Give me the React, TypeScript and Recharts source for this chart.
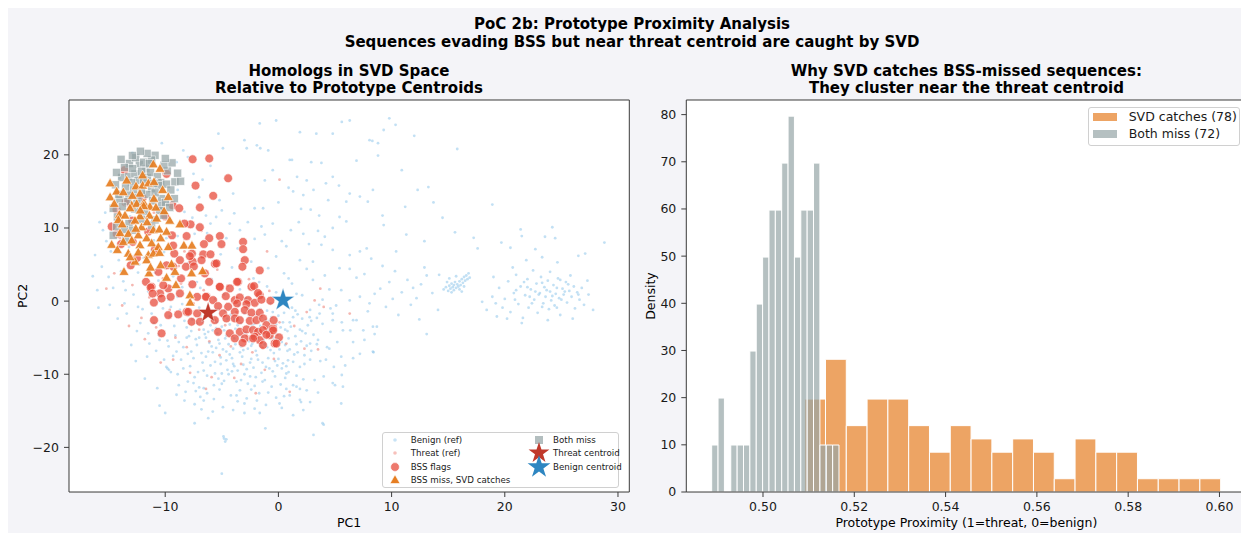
import React from 'react';
import { ScatterChart, ComposedChart, Scatter, XAxis, YAxis, CartesianGrid, ReferenceArea } from 'recharts';

const FONT = '"DejaVu Sans", "Liberation Sans", sans-serif';
type P = [number, number];

// ---------- Left panel: points in SVD space (PC1, PC2) ----------
const benignRef: P[] = [
  [-9.6,-2.1],[-9.1,-4.7],[-8.7,-1.2],[-8.4,-6.3],[-8.1,-3.6],[-7.8,-8.9],[-7.6,-2.5],[-7.3,-5.2],[-7.0,-0.9],[-6.8,-7.1],
  [-6.6,-3.9],[-6.3,-10.2],[-6.1,-5.7],[-5.9,-2.0],[-5.6,-8.3],[-5.4,-4.4],[-5.2,-12.1],[-4.9,-6.6],[-4.7,-1.3],[-4.5,-9.4],
  [-4.3,-3.2],[-4.1,-7.8],[-3.9,-5.1],[-3.7,-11.0],[-3.5,-2.6],[-3.3,-6.2],[-3.1,-8.7],[-2.9,-4.3],[-2.7,-1.0],[-2.5,-10.3],
  [-2.3,-5.8],[-2.1,-3.1],[-1.9,-7.4],[-1.7,-12.6],[-1.5,-2.2],[-1.3,-5.3],[-1.1,-9.0],[-0.9,-3.8],[-0.7,-6.7],[-0.5,-1.5],
  [-0.3,-8.2],[-0.1,-4.6],[0.2,-11.4],[0.4,-2.9],[0.6,-6.0],[0.9,-9.7],[1.1,-3.5],[1.4,-7.3],[1.7,-1.8],[2.0,-5.5],
  [2.3,-8.6],[2.6,-3.3],[2.9,-6.8],[3.2,-10.8],[-9.3,-7.5],[-8.9,-10.0],[-8.2,-12.4],[-7.5,-11.2],[-6.9,-13.1],[-6.2,-6.9],
  [-5.8,-4.0],[-5.3,-1.1],[-4.8,-10.9],[-4.4,-5.9],[-4.0,-2.1],[-3.6,-9.5],[-3.2,-4.9],[-2.8,-13.3],[-2.4,-7.9],[-2.0,-1.8],
  [-1.6,-6.1],[-1.2,-10.8],[-0.8,-2.7],[-0.4,-5.0],[0.0,-7.9],[0.5,-13.0],[0.8,-4.1],[1.2,-0.9],[1.6,-10.2],[2.1,-2.4],
  [-7.9,-4.8],[-7.2,-3.0],[-6.5,-1.6],[-6.0,-8.8],[-5.5,-6.4],[-5.0,-3.5],[-4.6,-8.1],[-4.2,-12.9],[-3.8,-3.8],[-3.4,-7.0],
  [-3.0,-1.7],[-2.6,-5.5],[-2.2,-9.1],[-1.8,-3.9],[-1.4,-8.4],[-1.0,-6.3],[-0.6,-11.7],[-0.2,-3.2],[0.3,-5.6],[0.7,-8.9],
  [-8.5,-0.4],[-7.7,-6.9],[-7.1,-9.7],[-6.4,-5.0],[-5.7,-11.5],[-5.1,-7.7],[-4.6,-4.7],[-4.0,-6.5],[-3.5,-0.6],[-3.0,-10.0],
  [-2.5,-3.6],[-2.0,-6.8],[-1.5,-4.5],[-1.0,-1.3],[-0.5,-9.6],[0.0,-2.0],[0.6,-3.9],[1.0,-6.6],[1.5,-4.8],[1.9,-12.0],
  [-6.7,-2.8],[-5.3,-5.3],[-4.5,-2.4],[-3.9,-8.9],[-3.3,-3.0],[-2.7,-6.5],[-2.1,-11.6],[-1.6,-1.1],[-0.9,-7.8],[-0.3,-6.1],
  [0.3,-9.2],[1.3,-2.2],[2.4,-4.4],[2.8,-1.2],[3.4,-5.9],[3.7,-8.2],[-8.0,-2.0],[-6.6,-11.9],[-5.0,-9.9],[-3.6,-13.7],
  [-9.8,-5.4],[-9.9,-9.0],[-10.4,-3.3],[-10.8,-6.8],[-11.2,-1.7],[-9.0,-12.8],[-7.4,-14.1],[-4.9,-14.5],[-1.1,-14.2],[1.0,-12.9],
  [3.9,-3.1],[4.3,-6.3],[4.6,-1.0],[4.9,-9.0],[3.5,-12.5],[-2.4,-12.1],[-0.7,-0.3],[-2.9,0.4],[-5.6,0.3],[-7.8,0.9],
  [-9.2,-3.4],[-8.8,-5.6],[-8.6,-8.0],[-8.3,-2.7],[-8.0,-7.2],[-7.7,-4.1],[-7.4,-10.4],[-7.2,-6.0],[-6.9,-2.0],[-6.7,-8.4],
  [-6.5,-4.5],[-6.3,-12.6],[-6.0,-3.3],[-5.8,-7.0],[-5.6,-9.9],[-5.4,-2.9],[-5.2,-5.8],[-5.0,-11.3],[-4.8,-4.0],[-4.6,-6.9],
  [-4.4,-10.0],[-4.2,-1.8],[-4.0,-8.6],[-3.8,-5.9],[-3.6,-3.3],[-3.4,-12.2],[-3.2,-7.6],[-3.0,-4.4],[-2.8,-9.3],[-2.6,-2.0],
  [-2.4,-6.1],[-2.2,-4.8],[-2.0,-10.4],[-1.8,-8.0],[-1.6,-3.4],[-1.4,-11.0],[-1.2,-5.9],[-1.0,-4.4],[-0.8,-9.2],[-0.6,-2.2],
  [-0.4,-7.1],[-0.2,-13.2],[0.0,-5.3],[0.2,-3.6],[0.4,-8.5],[0.6,-10.5],[0.8,-6.8],[1.0,-2.9],[1.3,-8.3],[1.6,-5.9],
  [1.9,-3.9],[2.2,-10.7],[2.5,-6.1],[2.8,-8.0],[3.1,-4.6],[3.4,-2.3],[-9.5,-0.8],[-9.0,-6.9],[-8.4,-9.2],[-7.9,-1.3],
  [-7.5,-7.8],[-7.0,-5.0],[-6.6,-9.5],[-6.2,-4.2],[-5.9,-6.2],[-5.5,-3.7],[-5.1,-8.6],[-4.7,-5.1],[-4.3,-7.3],[-3.9,-2.5],
  [-3.5,-4.8],[-3.1,-6.7],[-2.7,-11.3],[-2.3,-3.3],[-1.9,-5.2],[-1.5,-9.8],[-1.1,-2.6],[-0.7,-4.9],[-0.3,-10.3],[0.1,-6.6],
  [0.5,-1.6],[0.9,-5.1],[1.3,-11.5],[1.7,-7.0],[2.1,-4.1],[2.5,-12.2],[2.9,-2.7],[-8.1,-5.0],[-7.3,-12.3],[-6.4,-7.6],
  [-5.7,-13.4],[-4.9,-2.2],[-4.1,-9.6],[-3.3,-10.8],[-2.5,-8.4],[-1.7,-4.1],[-0.9,-12.5],[-0.1,-8.8],[0.7,-12.0],[1.5,-1.3],
  [-10.2,-1.0],[-10.6,-4.6],[-11.0,-3.0],[-9.7,-6.2],[-10.1,-8.0],[-11.4,-5.8],[-12.0,-1.1],[-12.5,-4.1],[-8.8,-11.5],[-7.0,-11.8],
  [-5.3,-10.6],[-3.7,-12.9],[-1.9,-13.6],[0.3,-14.6],[-6.8,-14.8],[-8.3,-13.6],[-3.0,-14.0],[2.0,-13.8],[4.2,-8.0],[4.6,-4.2],
  [5.2,-5.6],[5.6,-2.9],[4.0,-10.3],[3.6,-0.5],[5.9,-8.8],[-3.4,1.6],[-4.8,0.9],[-6.9,1.8],[-8.9,0.6],[-1.7,2.6],
  [-0.2,1.2],[0.9,3.1],[-10.9,3.9],[-12.3,5.0],[-13.9,4.1],[-14.8,6.8],[-15.2,8.2],[-13.5,1.5],[-11.2,6.9],[-9.9,8.6],
  [-8.6,7.3],[-7.4,9.2],[-6.0,10.6],[-5.0,12.4],[-3.9,12.0],[-2.7,10.8],[-2.1,8.5],[-1.2,9.1],[0.3,8.2],[1.8,10.8],
  [-3.6,7.2],[-2.4,5.4],[-4.1,4.6],[-0.9,4.5],[-15.8,10.8],[-16.4,3.4],[-15.9,-0.9],[-14.2,-2.4],[-11.6,-7.6],[-13.0,-6.0],
  [-16.2,6.3],[-15.6,4.7],[-15.0,3.3],[-15.5,9.7],[-14.6,1.8],[-14.1,5.6],[-13.7,2.7],[-13.2,7.4],[-12.8,0.9],[-12.4,3.9],
  [-11.9,5.9],[-11.5,1.3],[-11.0,8.3],[-10.6,2.8],[-10.1,6.7],[-9.7,0.2],[-9.3,3.4],[-8.9,8.9],[-8.5,1.9],[-8.0,5.2],
  [-7.6,11.4],[-7.2,2.6],[-6.8,6.0],[-6.3,9.3],[-5.9,3.0],[-5.5,11.5],[-5.1,6.4],[-4.6,8.6],[-4.3,10.6],[-3.4,9.7],
  [-13.4,-1.7],[-12.2,-3.0],[-11.5,-4.4],[-10.5,-5.3],[-12.4,-0.8],[-14.9,-0.5],[-13.6,-0.3],[-16.0,1.5],[-15.3,12.1],[-14.4,13.8],
  [-8.4,20.6],[-8.0,19.7],[-9.0,19.0],[-7.5,17.4],[-8.9,15.2],[-6.4,11.7],[-5.2,13.8],[-4.0,14.7],[-9.7,13.5],[-8.3,12.2],
  [-14.0,16.8],[-12.9,20.3],[-10.3,21.6],[-7.0,14.2],[-11.8,10.4],[-13.1,11.6],[-9.5,10.9],[-10.9,14.6],[-6.7,16.6],[-6.0,18.5],
  [-5.3,22.9],[-4.9,20.9],[-3.0,22.0],[-2.8,20.9],[-1.9,21.3],[-1.65,24.3],[-1.6,20.9],[-0.9,20.6],[-0.2,24.7],[1.9,23.1],
  [3.35,22.9],[4.8,22.9],[5.6,24.5],[6.3,24.7],[8.05,22.0],[1.0,19.3],[-0.5,17.9],[1.65,17.0],[2.5,16.5],[3.1,15.2],
  [4.2,16.1],[4.8,17.0],[6.3,14.7],[7.2,14.3],[8.35,15.2],[9.8,25.0],[10.35,24.1],[9.3,23.4],[8.3,21.9],[8.8,21.6],
  [8.8,19.9],[12.3,15.2],[13.25,15.6],[13.7,13.5],[14.5,11.4],[9.2,11.7],[9.3,10.4],[11.3,9.1],[12.9,8.2],[17.25,8.65],
  [17.6,7.2],[21.4,9.8],[24.2,10.1],[21.5,8.9],[23.55,8.8],[24.45,8.6],[28.8,8.0],[26.5,6.2],[27.1,6.5],[19.7,8.0],
  [20.5,7.3],[21.9,5.6],[22.7,7.1],[23.3,6.0],[24.65,5.3],[2.9,19.0],[3.8,18.9],[1.2,19.3],[6.9,19.2],[-1.2,16.5],
  [0.9,15.5],[1.3,15.0],[2.2,14.5],[5.35,15.8],[4.4,13.8],[6.0,13.6],[7.9,13.6],[-2.1,12.7],[-1.35,12.7],[2.0,12.6],
  [2.85,12.5],[0.0,13.5],[3.6,11.7],[5.4,11.5],[6.0,10.9],[4.8,10.0],[3.5,9.6],[2.2,9.2],[1.1,9.7],[-0.5,10.6],
  [-1.5,10.2],[4.1,8.8],[4.8,7.0],[6.3,6.3],[7.2,6.8],[7.8,7.2],[8.2,5.8],[-0.2,6.1],[0.7,7.5],[2.7,7.8],
  [1.9,5.6],[3.05,5.4],[3.8,7.7],[10.9,17.9],[15.8,20.8],[18.9,13.2],[12.0,22.6],[11.2,12.9],[15.6,9.4],[10.4,6.8],
  [5.4,4.5],[6.3,4.4],[6.9,3.2],[7.6,3.7],[4.1,3.5],[3.05,2.9],[4.5,1.6],[5.55,1.5],[6.3,0.1],[7.2,0.6],
  [8.05,-0.3],[8.5,1.0],[2.76,-2.2],[3.64,-1.7],[4.8,-2.6],[5.7,-4.0],[6.6,-2.6],[7.5,-4.0],[8.35,-3.5],[3.5,-5.3],
  [4.5,-6.5],[5.55,-7.6],[7.2,-7.2],[6.35,-4.0],[6.9,-2.6],[4.8,-1.7],[8.4,-7.0],[8.7,-3.5],[8.5,-4.5],[9.8,2.6],
  [10.3,4.1],[10.9,1.2],[11.4,2.9],[11.9,1.8],[12.2,0.4],[12.6,2.3],[13.1,3.5],[13.6,1.1],[9.5,-0.8],[10.6,-1.9],
  [12.45,-2.5],[13.1,-4.5],[14.1,-1.2],[1.2,2.4],[2.1,0.8],[0.5,3.8],[-1.0,2.0],[-2.2,3.1],[1.6,1.0],[9.2,4.8],
  [11.7,-0.5],[10.1,0.3],[12.9,4.6],[14.2,3.6],[6.6,-5.6],[7.9,-1.4],[9.0,1.7],[5.1,-0.6],[3.9,0.2],[2.5,4.4],
  [14.6,1.6],[14.8,1.9],[15.0,1.4],[15.1,2.1],[15.2,1.7],[15.3,2.4],[15.4,1.9],[15.5,1.5],[15.5,2.2],[15.6,2.6],
  [15.7,1.8],[15.8,2.3],[15.9,2.0],[16.0,2.7],[16.1,2.2],[16.2,3.0],[16.3,2.5],[16.4,3.3],[16.5,2.8],[16.6,3.5],
  [16.7,3.0],[16.9,3.2],[15.3,1.2],[16.0,1.6],[15.7,3.4],[16.4,2.0],[14.9,2.6],[16.8,3.8],[15.1,3.1],[16.2,1.3],
  [18.0,-0.1],[18.4,-1.2],[18.9,0.6],[19.3,-2.1],[19.8,-0.9],[19.5,1.8],[20.0,0.3],[20.3,2.7],[20.5,-1.5],[20.8,1.1],
  [21.0,3.6],[21.2,-0.4],[21.4,2.0],[21.6,-2.3],[21.8,0.8],[22.0,3.0],[22.1,-0.9],[22.3,1.6],[22.5,4.2],[22.6,0.2],
  [22.8,2.4],[22.9,-1.6],[23.1,1.1],[23.2,3.3],[23.4,-0.3],[23.5,1.9],[23.6,0.6],[23.8,2.8],[23.9,-1.1],[24.0,1.3],
  [24.1,0.1],[24.3,2.2],[24.4,-0.6],[24.5,1.0],[24.7,3.1],[24.8,0.4],[24.9,-1.9],[25.1,1.7],[25.2,0.9],[25.4,2.6],
  [25.5,-0.2],[25.7,1.4],[25.9,0.6],[26.1,2.0],[26.2,-1.0],[26.4,1.2],[26.6,0.2],[26.8,1.8],[27.0,-0.5],[27.4,0.9],
  [21.0,1.5],[22.2,0.6],[23.0,0.9],[23.7,1.5],[24.2,0.7],[24.6,1.8],[25.0,0.2],[25.3,1.3],[23.3,-0.8],[22.7,1.3],
  [20.2,-2.4],[21.5,-3.0],[23.8,-2.6],[26.0,-2.4],[27.8,-1.2],[19.0,3.3],[20.7,4.6],[24.0,4.0],[25.8,3.5],[27.3,2.8],
  [19.2,-0.3],[20.9,0.2],[22.4,-0.3],[24.6,-0.9],[26.5,0.9],[23.3,2.5],[21.7,2.6],[25.6,2.3],[22.0,1.9],[24.9,2.9],
  [-9.67,-9.4],[-9.5,-9.7],[-9.8,-9.2],[-8.0,-11.0],[-10.7,-11.9],[-10.5,-14.3],[-10.0,-15.3],[-7.4,-16.7],[-6.6,-13.6],[-5.8,-15.1],
  [-4.8,-18.8],[-4.7,-19.2],[-4.85,-18.5],[-4.6,-18.9],[-5.0,-23.6],[-4.0,-14.9],[-3.0,-15.3],[-2.1,-14.7],[-1.15,-17.4],[-1.65,-15.3],
  [0.1,-14.0],[1.3,-15.6],[1.9,-13.5],[3.1,-18.3],[4.0,-16.9],[4.8,-11.2],[5.6,-10.1],[5.7,-11.7],[6.6,-7.8],[8.35,-6.9],
  [7.6,-5.3],[5.0,-11.5],[2.8,-13.8],[3.9,-16.7],[5.55,-14.0],[2.2,-14.9],[1.6,-11.7],[0.7,-9.9],[1.9,-9.0],[0.85,-8.1],
  [2.3,-7.4],[2.8,-5.8],[-12.6,-8.2],[-11.8,-10.6],[-6.2,-16.0]
];

const threatRef: P[] = [
  [-14.5,3.8],[-13.8,-0.6],[-12.9,2.2],[-12.1,-2.3],[-11.4,0.5],[-10.8,-3.6],[-10.2,3.1],[-9.6,-1.2],[-9.1,-5.0],[-8.6,2.4],
  [-8.1,-6.3],[-7.5,-0.3],[-7.0,-3.9],[-6.6,1.5],[-6.1,-5.5],[-5.6,-2.6],[-5.2,-7.4],[-4.7,-3.3],[-4.2,-6.2],[-3.7,-1.5],
  [-3.3,-8.6],[-2.8,-4.7],[-2.3,-7.0],[-1.9,-2.0],[-1.4,-6.4],[-0.9,-4.0],[-0.4,-7.9],[0.1,-2.9],[0.7,-5.8],[1.4,-3.4],
  [-11.8,-5.2],[-13.2,-3.4],[-9.3,-8.0],[-7.8,-9.8],[-6.4,-12.0],[-3.9,-10.5],[-1.2,-9.4],[1.0,-12.4],[2.5,-1.5],[3.5,-6.6],
  [-4.5,2.1],[-2.6,3.0],[-0.8,1.4],[3.7,1.7],[-8.3,6.8],[-6.8,9.6],[-5.4,4.3],[-1.0,6.8],[-14.0,8.6],[-11.0,12.1],
  [0.1,16.6],[3.2,0.1],[4.0,-0.8],[6.3,-1.7],[-15.2,1.7],[2.3,-6.5],[-2.0,-12.6],[-5.9,-10.4],[-10.4,-8.4],[-8.8,4.8]
];

const bssFlags: P[] = [
  [-7.58,19.4],[-6.11,19.5],[-13.6,17.9],[-9.88,17.4],[-4.44,16.8],[-7.32,15.8],[-5.76,14.4],[-9.35,13.1],[-8.76,12.7],[-6.94,12.8],
  [-7.76,10.5],[-6.94,10.1],[-8.11,8.9],[-6.11,8.6],[-5.17,8.9],[-6.58,7.8],[-5.03,7.8],[-3.12,8.1],[-3.12,7.1],[-7.64,6.5],
  [-6.64,6.4],[-6.0,6.4],[-7.58,5.4],[-6.79,5.6],[-5.61,5.1],[-13.05,4.9],[-9.29,4.7],[-8.17,4.7],[-14.73,10.2],[-14.29,9.2],
  [-12.87,8.1],[-11.7,2.64],[-11.2,1.96],[-10.46,1.05],[-9.73,1.73],[-10.32,0.36],[-8.7,1.05],[-6.35,0.6],[-5.17,1.96],[-4.29,1.73],
  [-3.56,2.64],[-2.38,1.96],[-1.65,4.2],[-2.97,5.6],[-3.18,4.7],[-7.82,6.15],[-5.47,5.15],[-8.7,5.6],[-7.47,4.75],[-9.88,4.9],
  [-6.5,3.8],[-6.12,2.64],[-5.18,1.96],[-3.65,2.64],[-2.15,2.05],[-1.65,0.82],[-11.29,1.86],[-10.17,2.17],[-11.11,1.03],[-9.52,0.59],
  [-7.18,0.59],[-6.41,0.59],[-5.77,0.14],[-4.65,0.68],[-3.85,0.14],[-3.41,0.5],[-2.68,0.14],[-2.09,-0.23],[-0.71,0.05],[-5.33,-0.68],
  [-4.44,-0.77],[-3.65,-0.32],[-2.82,-0.41],[-4.89,-1.68],[-3.85,-1.46],[-2.97,-1.23],[-2.38,-1.59],[-1.65,-1.59],[-10.99,-2.6],[-9.73,-1.91],
  [-8.85,-1.82],[-8.11,-1.46],[-7.18,-1.68],[-5.62,-2.6],[-4.59,-2.37],[-3.85,-2.37],[-3.41,-2.6],[-2.53,-2.69],[-1.94,-2.6],[-1.36,-2.37],
  [-1.06,-3.28],[-5.33,-4.2],[-4.29,-4.4],[-3.41,-4.2],[-2.82,-3.87],[-2.24,-3.96],[-1.8,-4.2],[-1.36,-3.96],[-0.48,-3.73],[-3.85,-5.1],
  [-2.97,-5.1],[-2.09,-4.87],[-1.65,-5.33],[-0.77,-4.64],[0.05,-4.96],[-10.32,-4.4],[-0.33,-5.78],[-1.36,-6.0],[-7.96,-1.46],[-7.67,-2.82],
  [-6.94,-2.82],[-3.17,-5.7],[-2.24,-5.1],[-0.18,-5.8],[-0.47,-4.0],[-1.06,-4.6],[-0.42,-2.6],[-1.8,1.1],[-1.5,0.2],[-13.5,13.5],
  [-12.9,11.0],[-13.9,7.8],[-11.5,9.5],[-12.5,5.9],[-10.9,7.1],[-10.0,11.6],[-9.4,9.0],[-9.2,6.5],[-12.0,14.1],[-14.3,12.5],
  [-10.6,4.0],[-8.6,3.1],[-7.6,2.3],[-9.3,7.6],[-8.3,10.6],[-11.0,-0.2]
];

const svdCatchPts: P[] = [
  [-11.05,18.7],[-10.46,18.1],[-14.87,16.1],[-12.58,15.7],[-11.99,15.8],[-11.49,16.1],[-10.99,16.3],[-14.29,15.0],[-13.7,14.9],[-12.23,14.7],
  [-10.23,15.2],[-9.73,14.25],[-14.87,14.2],[-12.96,13.1],[-12.52,13.3],[-11.88,13.4],[-11.35,12.9],[-10.82,12.8],[-13.11,12.7],[-14.05,11.8],
  [-13.55,11.7],[-12.23,11.6],[-11.4,11.7],[-10.76,11.3],[-14.14,11.1],[-12.67,11.0],[-12.08,10.1],[-11.05,9.7],[-10.52,9.8],[-9.88,9.5],
  [-8.7,10.5],[-13.99,9.3],[-13.26,9.2],[-12.38,9.0],[-13.7,8.1],[-12.96,8.3],[-11.64,8.6],[-14.73,7.7],[-14.23,7.0],[-12.23,7.65],
  [-11.2,7.9],[-10.61,7.4],[-9.73,7.4],[-8.35,7.6],[-7.64,7.6],[-12.38,6.65],[-13.26,6.5],[-11.49,6.3],[-11.05,6.5],[-12.67,5.4],
  [-11.64,5.6],[-10.41,4.9],[-9.44,5.05],[-13.64,4.0],[-11.43,3.8],[-9.88,3.2],[-9.14,4.0],[-7.67,3.8],[-6.7,4.1],[-9.05,2.2],
  [-7.82,0.8],[-7.8,-0.2],[-10.5,6.6],[-13.4,16.5],[-12.0,17.2],[-11.0,14.0],[-12.9,14.4],[-10.1,12.3],[-13.8,10.5],[-12.6,9.9],
  [-11.6,10.8],[-11.9,13.0],[-10.4,8.6],[-13.1,6.0],[-14.5,13.3],[-12.2,12.4],[-9.6,11.0],[-11.3,4.6]
];

const bothMissPts: P[] = [
  [-10.9,19.95],[-13.17,18.8],[-12.29,18.7],[-11.7,18.1],[-13.84,16.9],[-13.26,17.0],[-12.67,17.4],[-12.08,17.7],[-11.58,16.9],[-9.82,17.8],
  [-9.14,16.3],[-8.64,16.4],[-10.32,14.0],[-10.32,13.1],[-10.17,11.75],[-14.23,11.5],[-14.29,10.2],[-11.2,19.3],[-12.6,19.6],[-11.9,19.0],
  [-13.6,18.3],[-12.9,18.1],[-11.3,17.6],[-10.7,17.0],[-12.4,16.5],[-13.0,16.2],[-11.9,16.6],[-10.4,16.2],[-13.5,15.6],[-12.8,15.2],
  [-11.2,15.4],[-10.6,15.8],[-9.9,16.0],[-13.2,14.5],[-12.4,14.2],[-11.6,14.6],[-10.9,14.8],[-14.0,13.9],[-13.3,13.6],[-11.1,13.7],
  [-10.0,13.5],[-12.7,12.6],[-11.8,12.3],[-14.6,12.7],[-13.8,12.9],[-10.5,12.4],[-12.1,11.2],[-13.2,10.6],[-11.2,10.4],[-13.6,9.8],
  [-10.9,11.1],[-9.6,12.8],[-14.6,9.0],[-12.9,9.7],[-10.1,18.6],[-9.4,18.9],[-11.6,20.2],[-12.2,20.5],[-13.9,19.4],[-14.3,17.6],
  [-8.9,17.5],[-9.5,15.2],[-14.4,15.9],[-12.1,15.1],[-11.4,18.8],[-10.0,19.5],[-12.9,19.9],[-11.0,16.1],[-13.5,8.4],[-14.1,14.6],
  [-9.2,14.0],[-12.5,13.3]
];

const threatCentroid: P[] = [[-6.21, -1.6]];
const benignCentroid: P[] = [[0.41, 0.14]];

const pcXTicks = [-10, 0, 10, 20, 30];
const pcYTicks = [-20, -10, 0, 10, 20];
const pcXDomain: P = [-18.5, 31.0];
const pcYDomain: P = [-26.1, 27.5];

// ---------- Right panel: histograms of prototype proximity ----------
const svdBinStart = 0.509135;
const svdBinWidth = 0.0045563;
const svdCounts = [7, 10, 5, 7, 7, 5, 3, 5, 4, 3, 4, 3, 1, 4, 3, 3, 1, 1, 1, 1];
const missBinStart = 0.48876;
const missBinWidth = 0.0013945;
const missCounts = [1, 2, 0, 1, 1, 1, 3, 4, 5, 6, 6, 7, 8, 5, 6, 6, 7, 1, 1, 1];
const proxXTicks = [0.5, 0.52, 0.54, 0.56, 0.58, 0.6];
const proxYTicks = [0, 10, 20, 30, 40, 50, 60, 70, 80];
const proxXDomain: P = [0.4832, 0.6059];
const proxYDomain: P = [0, 83.1];

const toPts = (a: P[]) => a.map(([x, y]) => ({ x, y }));
const makeBins = (start: number, width: number, counts: number[]) => {
  const total = counts.reduce((s, c) => s + c, 0);
  return counts
    .map((c, i) => ({ x0: start + i * width, x1: start + (i + 1) * width, density: c / (total * width) }))
    .filter((b) => b.density > 0);
};
const svdBins = makeBins(svdBinStart, svdBinWidth, svdCounts);
const missBins = makeBins(missBinStart, missBinWidth, missCounts);

const minus = (v: number) => String(v).replace('-', '\u2212');

const C = {
  bg: '#f4f4f8',
  benign: '#85c1e9',
  threat: '#e74c3c',
  orange: '#e67e22',
  gray: '#95a5a6',
  threatStar: '#c0392b',
  benignStar: '#2e86c1',
  grid: '#e6e6e6',
  frame: '#3c3c3c',
  text: '#1a1a1a',
};

function starPath(cx: number, cy: number, R: number) {
  const r = R * 0.382;
  let d = '';
  for (let i = 0; i < 10; i++) {
    const rad = i % 2 === 0 ? R : r;
    const a = -Math.PI / 2 + (i * Math.PI) / 5;
    d += (i === 0 ? 'M' : 'L') + (cx + rad * Math.cos(a)).toFixed(2) + ',' + (cy + rad * Math.sin(a)).toFixed(2);
  }
  return d + 'Z';
}
const triPath = (cx: number, cy: number, s: number) =>
  `M${cx},${cy - s * 1.05}L${cx - s},${cy + s * 0.7}L${cx + s},${cy + s * 0.7}Z`;

const smallDot = (color: string, op: number) => (p: any) =>
  <circle cx={p.cx} cy={p.cy} r={1.4} fill={color} fillOpacity={op} />;
const flagDot = (p: any) =>
  <circle cx={p.cx} cy={p.cy} r={4.4} fill={C.threat} fillOpacity={0.75} stroke="#fff" strokeWidth={0.6} />;
const triShape = (p: any) =>
  <path d={triPath(p.cx, p.cy, 5)} fill={C.orange} fillOpacity={0.92} stroke="#fff" strokeWidth={0.6} />;
const sqShape = (p: any) =>
  <rect x={p.cx - 4} y={p.cy - 4} width={8} height={8} fill={C.gray} fillOpacity={0.72} stroke="#fff" strokeWidth={0.5} />;
const starShape = (color: string, R: number) => (p: any) =>
  <path d={starPath(p.cx, p.cy, R)} fill={color} stroke="#fff" strokeWidth={0.4} />;
const noShape = () => <g />;

const FS = 12.5;
const tickStyle = { fontSize: FS, fill: C.text, fontFamily: FONT };

const Txt: React.FC<{ x: number; y: number; w?: number; size?: number; bold?: boolean; children: React.ReactNode }> = ({ x, y, w = 700, size = 15, bold = true, children }) => (
  <div style={{ position: 'absolute', left: x - w / 2, top: y - 10, width: w, height: 20, lineHeight: '20px', textAlign: 'center', fontSize: size, fontWeight: bold ? 700 : 400, color: '#000', whiteSpace: 'nowrap' }}>{children}</div>
);

const LegendMarker: React.FC<{ kind: string }> = ({ kind }) => {
  const s = 24;
  const c = s / 2;
  let el: React.ReactNode = null;
  if (kind === 'benign') el = <circle cx={c} cy={c} r={1.8} fill={C.benign} fillOpacity={0.45} />;
  if (kind === 'threat') el = <circle cx={c} cy={c} r={1.8} fill={C.threat} fillOpacity={0.35} />;
  if (kind === 'flag') el = <circle cx={c} cy={c} r={4.4} fill={C.threat} fillOpacity={0.75} stroke="#fff" strokeWidth={0.6} />;
  if (kind === 'tri') el = <path d={triPath(c, c, 5)} fill={C.orange} stroke="#fff" strokeWidth={0.6} />;
  if (kind === 'sq') el = <rect x={c - 4} y={c - 4} width={8} height={8} fill={C.gray} fillOpacity={0.72} />;
  if (kind === 'tstar') el = <path d={starPath(c, c, 11)} fill={C.threatStar} />;
  if (kind === 'bstar') el = <path d={starPath(c, c, 12)} fill={C.benignStar} />;
  return <svg width={s} height={s} style={{ position: 'absolute', left: -s / 2, top: -s / 2, overflow: 'visible' }}>{el}</svg>;
};

const LegendRow: React.FC<{ mx: number; tx: number; y: number; kind: string; label: string }> = ({ mx, tx, y, kind, label }) => (
  <>
    <div style={{ position: 'absolute', left: mx, top: y }}><LegendMarker kind={kind} /></div>
    <div style={{ position: 'absolute', left: tx, top: y - 7, height: 14, lineHeight: '14px', fontSize: 8.7, color: C.text, whiteSpace: 'nowrap' }}>{label}</div>
  </>
);

export default function App() {
  return (
    <div style={{ position: 'fixed', left: 8, top: 8, width: 1233, height: 525, background: C.bg, overflow: 'hidden', fontFamily: FONT }}>
      <Txt x={624} y={16.3}>PoC 2b: Prototype Proximity Analysis</Txt>
      <Txt x={624} y={33.7}>Sequences evading BSS but near threat centroid are caught by SVD</Txt>
      <Txt x={341} y={63}>Homologs in SVD Space</Txt>
      <Txt x={341} y={79.7}>Relative to Prototype Centroids</Txt>
      <Txt x={958.4} y={63}>Why SVD catches BSS-missed sequences:</Txt>
      <Txt x={958.4} y={79.7}>They cluster near the threat centroid</Txt>

      {/* Left panel */}
      <div style={{ position: 'absolute', left: 0, top: 0, width: 640, height: 525 }}>
        <ScatterChart width={640} height={525} margin={{ top: 92, right: 18.7, bottom: 11, left: 0 }}>
          <rect x={61} y={92} width={560.3} height={392} fill="#fff" />
          <CartesianGrid stroke={C.grid} strokeWidth={1} />
          <XAxis type="number" dataKey="x" domain={pcXDomain} ticks={pcXTicks} allowDataOverflow height={30}
            tickFormatter={minus} tick={tickStyle} tickSize={5} tickMargin={5} axisLine={false} tickLine={{ stroke: C.frame }} />
          <YAxis type="number" dataKey="y" domain={pcYDomain} ticks={pcYTicks} allowDataOverflow width={61}
            tickFormatter={minus} tick={tickStyle} tickSize={5} tickMargin={5} axisLine={false} tickLine={{ stroke: C.frame }} />
          <Scatter name="Benign (ref)" data={toPts(benignRef)} shape={smallDot(C.benign, 0.5)} isAnimationActive={false} />
          <Scatter name="Threat (ref)" data={toPts(threatRef)} shape={smallDot(C.threat, 0.4)} isAnimationActive={false} />
          <Scatter name="BSS flags" data={toPts(bssFlags)} shape={flagDot} isAnimationActive={false} />
          <Scatter name="Both miss" data={toPts(bothMissPts)} shape={sqShape} isAnimationActive={false} />
          <Scatter name="BSS miss, SVD catches" data={toPts(svdCatchPts)} shape={triShape} isAnimationActive={false} />
          <Scatter name="Threat centroid" data={toPts(threatCentroid)} shape={starShape(C.threatStar, 11)} isAnimationActive={false} />
          <Scatter name="Benign centroid" data={toPts(benignCentroid)} shape={starShape(C.benignStar, 12)} isAnimationActive={false} />
          <ReferenceArea x1={pcXDomain[0]} x2={pcXDomain[1]} y1={pcYDomain[0]} y2={pcYDomain[1]} fill="none" fillOpacity={0} stroke={C.frame} strokeWidth={1} />
        </ScatterChart>
      </div>

      {/* Left legend */}
      <div style={{ position: 'absolute', left: 374.3, top: 424.3, width: 237, height: 56, background: 'rgba(255,255,255,0.85)', border: '1px solid #d0d0d0', borderRadius: 3, boxSizing: 'border-box' }} />
      <LegendRow mx={387} tx={402.7} y={432} kind="benign" label="Benign (ref)" />
      <LegendRow mx={387} tx={402.7} y={445.3} kind="threat" label="Threat (ref)" />
      <LegendRow mx={387} tx={402.7} y={458.7} kind="flag" label="BSS flags" />
      <LegendRow mx={387} tx={402.7} y={472} kind="tri" label="BSS miss, SVD catches" />
      <LegendRow mx={531.3} tx={545} y={432} kind="sq" label="Both miss" />
      <LegendRow mx={531.3} tx={545} y={445.3} kind="tstar" label="Threat centroid" />
      <LegendRow mx={531.3} tx={545} y={458.7} kind="bstar" label="Benign centroid" />

      <Txt x={341} y={515} size={FS} bold={false} w={200}>PC1</Txt>
      <div style={{ position: 'absolute', left: 14, top: 288, transform: 'translate(-50%,-50%) rotate(-90deg)', fontSize: FS, color: '#000', whiteSpace: 'nowrap' }}>PC2</div>

      {/* Right panel */}
      <div style={{ position: 'absolute', left: 620, top: 0, width: 640, height: 525 }}>
        <ComposedChart width={640} height={525} margin={{ top: 92, right: 21.6, bottom: 11, left: 0 }}
          data={missBins.map((b) => ({ x: (b.x0 + b.x1) / 2, y: b.density }))}>
          <rect x={58.3} y={92} width={560.1} height={392} fill="#fff" />
          <CartesianGrid stroke={C.grid} strokeWidth={1} />
          <XAxis type="number" dataKey="x" domain={proxXDomain} ticks={proxXTicks} allowDataOverflow height={30}
            tickFormatter={(v: number) => v.toFixed(2)} tick={tickStyle} tickSize={5} tickMargin={5} axisLine={false} tickLine={{ stroke: C.frame }} />
          <YAxis type="number" dataKey="y" domain={proxYDomain} ticks={proxYTicks} allowDataOverflow width={58.3}
            tick={tickStyle} tickSize={5} tickMargin={5} axisLine={false} tickLine={{ stroke: C.frame }} />
          <Scatter dataKey="y" shape={noShape} isAnimationActive={false} legendType="none" />
          {svdBins.map((b, i) => (
            <ReferenceArea key={'s' + i} x1={b.x0} x2={b.x1} y1={0} y2={b.density} fill={C.orange} fillOpacity={0.7} stroke="#fff" strokeWidth={1} />
          ))}
          {missBins.map((b, i) => (
            <ReferenceArea key={'m' + i} x1={b.x0} x2={b.x1} y1={0} y2={b.density} fill={C.gray} fillOpacity={0.7} stroke="#fff" strokeWidth={1} />
          ))}
          <ReferenceArea x1={proxXDomain[0]} x2={proxXDomain[1]} y1={proxYDomain[0]} y2={proxYDomain[1]} fill="none" fillOpacity={0} stroke={C.frame} strokeWidth={1} />
        </ComposedChart>
      </div>

      {/* Right legend */}
      <div style={{ position: 'absolute', left: 1080.3, top: 98.7, width: 152, height: 39.5, background: 'rgba(255,255,255,0.85)', border: '1px solid #d0d0d0', borderRadius: 3, boxSizing: 'border-box' }} />
      <div style={{ position: 'absolute', left: 1085.3, top: 104.7, width: 24, height: 8, background: C.orange, opacity: 0.7 }} />
      <div style={{ position: 'absolute', left: 1085.3, top: 122.3, width: 24, height: 8, background: C.gray, opacity: 0.7 }} />
      <div style={{ position: 'absolute', left: 1120.7, top: 100.7, height: 16, lineHeight: '16px', fontSize: FS, color: C.text, whiteSpace: 'nowrap' }}>SVD catches (78)</div>
      <div style={{ position: 'absolute', left: 1120.7, top: 118.3, height: 16, lineHeight: '16px', fontSize: FS, color: C.text, whiteSpace: 'nowrap' }}>Both miss (72)</div>

      <Txt x={958.4} y={515} size={FS} bold={false} w={400}>Prototype Proximity (1=threat, 0=benign)</Txt>
      <div style={{ position: 'absolute', left: 642, top: 288, transform: 'translate(-50%,-50%) rotate(-90deg)', fontSize: FS, color: '#000', whiteSpace: 'nowrap' }}>Density</div>
    </div>
  );
}
